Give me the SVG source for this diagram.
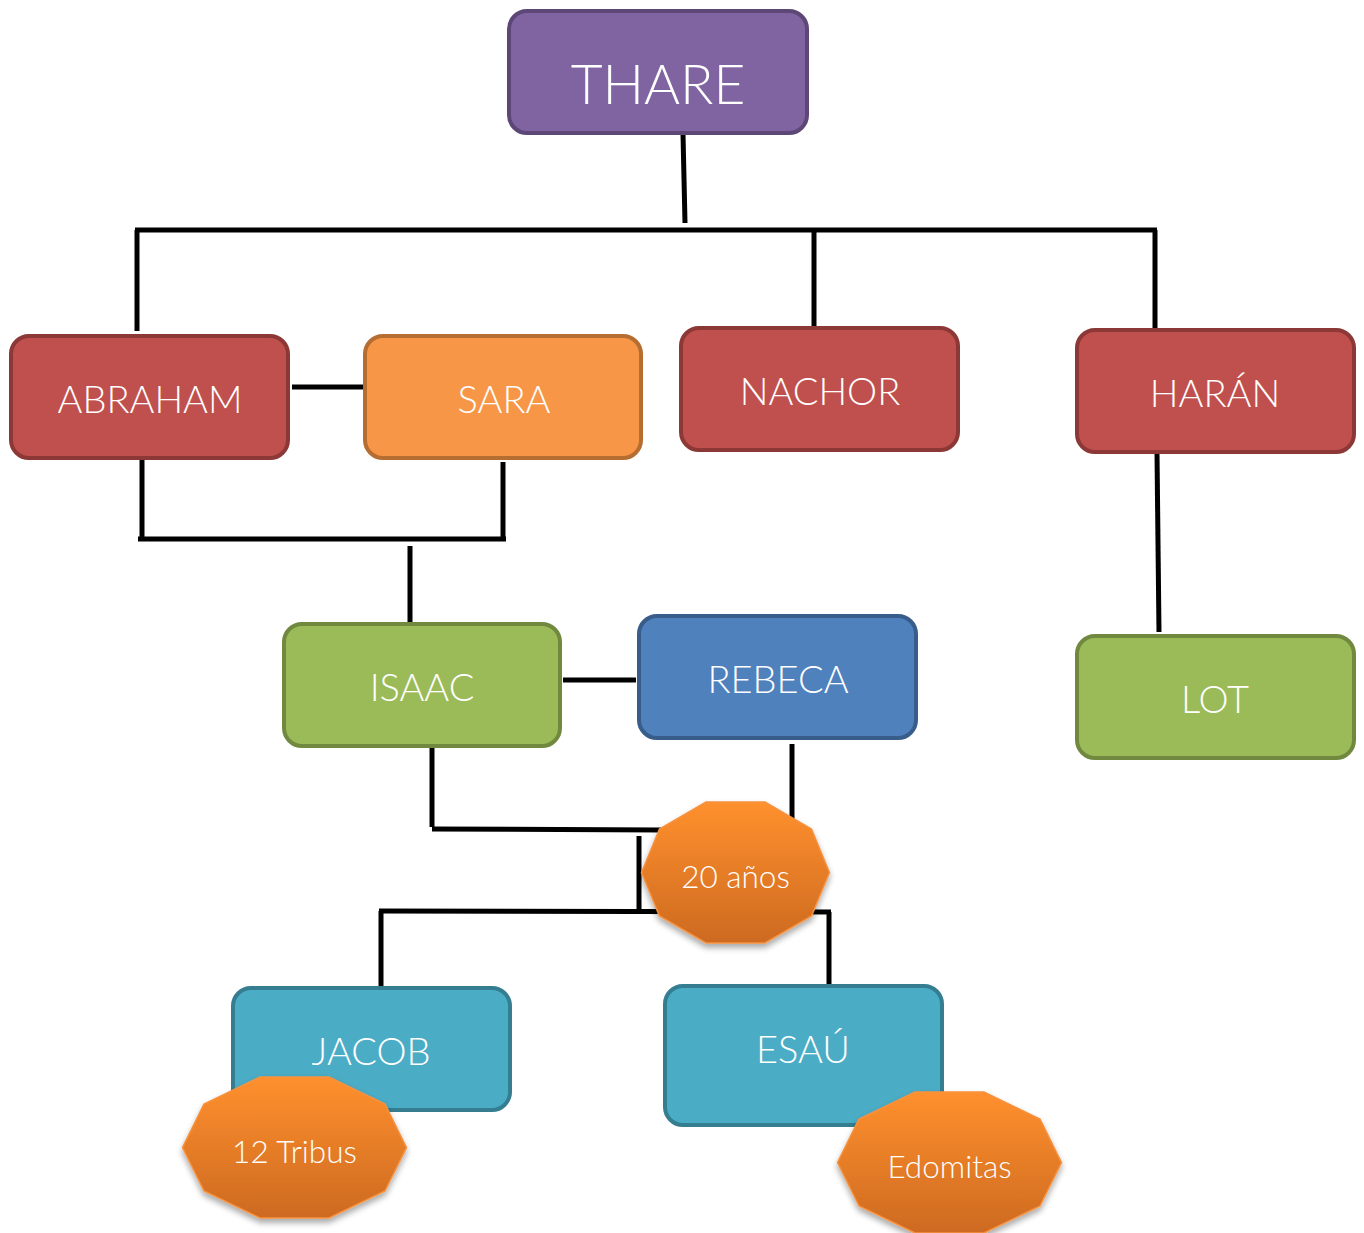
<svg xmlns="http://www.w3.org/2000/svg" width="1364" height="1233" viewBox="0 0 1364 1233">
<style>
.box{stroke-width:4}
.lbl{font-family:Lato,"Open Sans","Liberation Sans",sans-serif;font-weight:300;fill:#fff;text-anchor:middle}
.big{font-size:38px}
.oct{fill:url(#og);stroke:#F6923F;stroke-width:1.5;filter:url(#sh)}
.olbl{font-size:31.5px}
.con line,.con polyline{stroke:#000;stroke-width:5;fill:none}
</style>
<defs>
<linearGradient id="og" x1="0" y1="0" x2="0" y2="1">
<stop offset="0" stop-color="#FF902E"/>
<stop offset="1" stop-color="#CD6A21"/>
</linearGradient>
<filter id="sh" x="-20%" y="-20%" width="140%" height="150%">
<feGaussianBlur in="SourceAlpha" stdDeviation="3"/>
<feOffset dy="4"/>
<feComponentTransfer><feFuncA type="linear" slope="0.35"/></feComponentTransfer>
<feMerge><feMergeNode/><feMergeNode in="SourceGraphic"/></feMerge>
</filter>
</defs>
<g class="con">
<line x1="683" y1="134" x2="685" y2="223"/>
<line x1="135" y1="230" x2="1157" y2="230"/>
<line x1="137" y1="230" x2="137" y2="331"/>
<line x1="814" y1="230" x2="814" y2="329"/>
<line x1="1155" y1="230" x2="1155" y2="329"/>
<line x1="292" y1="387" x2="366" y2="387"/>
<line x1="142" y1="459" x2="142" y2="537"/>
<line x1="503" y1="462" x2="503" y2="541"/>
<line x1="138" y1="539" x2="506" y2="539"/>
<line x1="410" y1="546" x2="410" y2="624"/>
<line x1="563" y1="680" x2="636" y2="680"/>
<line x1="1157" y1="453" x2="1159" y2="632"/>
<line x1="432" y1="747" x2="432" y2="827"/>
<line x1="432" y1="829" x2="662" y2="830"/>
<line x1="792" y1="744" x2="792" y2="822"/>
<line x1="639" y1="836" x2="639" y2="912"/>
<line x1="379" y1="911" x2="831" y2="912"/>
<line x1="829" y1="912" x2="829" y2="992"/>
<line x1="381" y1="911" x2="381" y2="988"/>
</g>
<g id="thare"><rect class="box" x="509" y="11" width="298" height="122" rx="18" fill="#8064A2" stroke="#5C4776"/><text class="lbl" x="658" y="104" font-size="55">THARE</text></g>
<g id="abraham"><rect class="box" x="11" y="336" width="277" height="122" rx="18" fill="#C0504D" stroke="#8C3836"/><text class="lbl big" x="150" y="413">ABRAHAM</text></g>
<g id="sara"><rect class="box" x="365" y="336" width="276" height="122" rx="18" fill="#F79646" stroke="#B66D31"/><text class="lbl big" x="504" y="413">SARA</text></g>
<g id="nachor"><rect class="box" x="681" y="328" width="277" height="122" rx="18" fill="#C0504D" stroke="#8C3836"/><text class="lbl big" x="820" y="405">NACHOR</text></g>
<g id="haran"><rect class="box" x="1077" y="330" width="277" height="122" rx="18" fill="#C0504D" stroke="#8C3836"/><text class="lbl big" x="1215" y="407">HARÁN</text></g>
<g id="isaac"><rect class="box" x="284" y="624" width="276" height="122" rx="18" fill="#9BBB59" stroke="#71893F"/><text class="lbl big" x="422" y="701">ISAAC</text></g>
<g id="rebeca"><rect class="box" x="639" y="616" width="277" height="122" rx="18" fill="#4F81BD" stroke="#385D8A"/><text class="lbl big" x="778" y="693">REBECA</text></g>
<g id="lot"><rect class="box" x="1077" y="636" width="277" height="122" rx="18" fill="#9BBB59" stroke="#71893F"/><text class="lbl big" x="1215" y="713">LOT</text></g>
<g id="jacob"><rect class="box" x="233" y="988" width="277" height="122" rx="18" fill="#4BACC6" stroke="#357D91"/><text class="lbl big" x="371" y="1065">JACOB</text></g>
<g id="esau"><rect class="box" x="665" y="986" width="277" height="139" rx="18" fill="#4BACC6" stroke="#357D91"/><text class="lbl big" x="803" y="1063">ESAÚ</text></g>
<g id="anos"><polygon class="oct" points="829.5,872.5 811.5,829 765,802 706,802 659.5,829 641.5,872.5 659.5,916 706,943 765,943 811.5,916"/><text class="lbl olbl" x="735.5" y="888">20 años</text></g>
<g id="tribus"><polygon class="oct" points="406.5,1147.5 385,1104 329,1077 260,1077 204,1104 182.5,1147.5 204,1191 260,1218 329,1218 385,1191"/><text class="lbl olbl" x="294.5" y="1163">12 Tribus</text></g>
<g id="edomitas"><polygon class="oct" points="1061.5,1162.5 1040,1119 984,1092 915,1092 859,1119 837.5,1162.5 859,1206 915,1233 984,1233 1040,1206"/><text class="lbl olbl" x="949.5" y="1178">Edomitas</text></g>
</svg>
